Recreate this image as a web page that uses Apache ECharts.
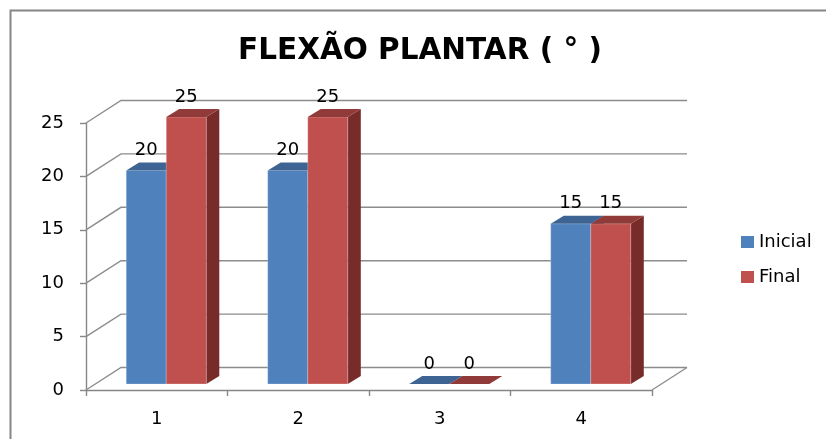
<!DOCTYPE html>
<html>
<head>
<meta charset="utf-8">
<script src="https://cdn.jsdelivr.net/npm/echarts@6/dist/echarts.min.js"></script>
<style>
html,body{margin:0;padding:0;background:#fff;}
#chart{width:826px;height:439px;}
</style>
</head>
<body>
<div id="chart"></div>
<script>
const categories = ['1', '2', '3', '4'];
const inicial = [20, 20, 0, 15];
const finalVals = [25, 25, 0, 15];
const yTicks = [0, 5, 10, 15, 20, 25];
const seriesNames = ['Inicial', 'Final'];
const titleText = 'FLEXÃO PLANTAR ( ° )';

const FONT = 'DejaVu Sans';
const WALL_DX = 35, WALL_DY = -22.5;   // depth of back wall
const BAR_SX = 9.5, BAR_SY = -6;       // bar front plane offset
const BAR_DX = 13, BAR_DY = -8;        // bar depth

const palettes = [
  { front: '#4F81BD', top: '#3E6493', side: '#36577F' },
  { front: '#C0504D', top: '#903B39', side: '#772C2A' }
];

function makeBarRenderer(idx) {
  const pal = palettes[idx];
  return function (params, api) {
    const cat = api.value(0), val = api.value(1);
    const base = api.coord([cat, 0]);
    const topP = api.coord([cat, val]);
    const band = api.size([1, 0])[0];
    const w = band * 0.283;
    const x0 = base[0] + BAR_SX + (idx === 0 ? -w : 0);
    const x1 = x0 + w;
    const yb = base[1] + BAR_SY;
    const yt = topP[1] + BAR_SY;
    return {
      type: 'group',
      children: [
        { type: 'polygon', shape: { points: [[x1, yb], [x1 + BAR_DX, yb + BAR_DY], [x1 + BAR_DX, yt + BAR_DY], [x1, yt]] }, style: { fill: pal.side } },
        { type: 'polygon', shape: { points: [[x0, yb], [x1, yb], [x1, yt], [x0, yt]] }, style: { fill: pal.front, stroke: 'rgba(255,255,255,0.25)', lineWidth: 1 } },
        { type: 'polygon', shape: { points: [[x0, yt], [x1, yt], [x1 + BAR_DX, yt + BAR_DY], [x0 + BAR_DX, yt + BAR_DY]] }, style: { fill: pal.top } },
        { type: 'text', x: (x0 + x1) / 2, y: yt - 20, style: { text: String(val), align: 'center', verticalAlign: 'middle', fill: '#000', font: '18px "' + FONT + '"' } }
      ]
    };
  };
}

function wallRenderer(params, api) {
  const cs = params.coordSys;
  const v = api.value(1);
  const y = api.coord([0, v])[1];
  const left = cs.x, right = cs.x + cs.width;
  const children = [
    { type: 'polyline', shape: { points: [[left, y], [left + WALL_DX, y + WALL_DY], [right + WALL_DX, y + WALL_DY]] }, style: { stroke: '#8C8C8C', lineWidth: 1.4, fill: null } }
  ];
  if (v === yTicks[0]) {
    children.push({ type: 'line', shape: { x1: right, y1: y, x2: right + WALL_DX, y2: y + WALL_DY }, style: { stroke: '#8C8C8C', lineWidth: 1.4 } });
  }
  return { type: 'group', children: children };
}

const chart = echarts.init(document.getElementById('chart'));
chart.setOption({
  backgroundColor: '#fff',
  animation: false,
  title: {
    text: titleText,
    left: 415, top: 31, textAlign: 'center',
    textStyle: { fontFamily: FONT, fontWeight: 'bold', fontSize: 29.5, color: '#000' }
  },
  graphic: [
    { type: 'rect', shape: { x: 10.5, y: 10.5, width: 3000, height: 3000 }, style: { fill: null, stroke: '#868686', lineWidth: 2 }, z: 100 }
  ],
  legend: {
    data: seriesNames,
    orient: 'vertical',
    left: 741, top: 232, padding: 0,
    itemWidth: 13, itemHeight: 12, itemGap: 15, itemTextGap: 6,
    icon: 'rect',
    textStyle: { fontFamily: FONT, fontSize: 18, color: '#000', lineHeight: 20 }
  },
  grid: { left: 86, right: 174, top: 123, bottom: 49, containLabel: false },
  xAxis: {
    type: 'category',
    data: categories,
    axisLine: { lineStyle: { color: '#868686', width: 1.4 } },
    axisTick: { show: true, length: 6, lineStyle: { color: '#868686', width: 1.4 } },
    axisLabel: { margin: 20, fontFamily: FONT, fontSize: 18, color: '#000' },
    splitLine: { show: false }
  },
  yAxis: {
    type: 'value',
    min: 0, max: 25, interval: 5,
    axisLine: { show: true, lineStyle: { color: '#868686', width: 1.4 } },
    axisTick: { show: true, length: 6, lineStyle: { color: '#868686', width: 1.4 } },
    axisLabel: { margin: 22, fontFamily: FONT, fontSize: 18, color: '#000' },
    splitLine: { show: false }
  },
  series: [
    {
      name: 'wall', type: 'custom', silent: true, z: 1,
      renderItem: wallRenderer,
      data: yTicks.map(v => [0, v])
    },
    {
      name: seriesNames[0], type: 'custom', z: 2,
      itemStyle: { color: palettes[0].front },
      renderItem: makeBarRenderer(0),
      data: categories.map((c, i) => [i, inicial[i]])
    },
    {
      name: seriesNames[1], type: 'custom', z: 3,
      itemStyle: { color: palettes[1].front },
      renderItem: makeBarRenderer(1),
      data: categories.map((c, i) => [i, finalVals[i]])
    }
  ]
});
</script>
</body>
</html>
